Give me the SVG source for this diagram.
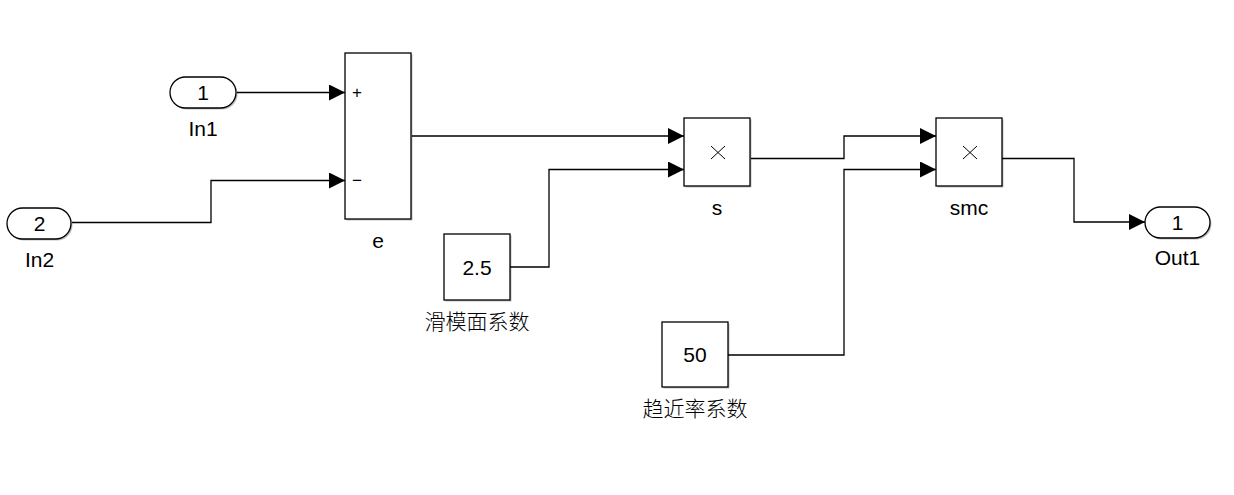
<svg xmlns="http://www.w3.org/2000/svg" width="1234" height="495" viewBox="0 0 1234 495">
<defs>
<marker id="arr" viewBox="0 0 16 16" refX="16" refY="8" markerWidth="16" markerHeight="16" markerUnits="userSpaceOnUse" orient="auto">
<path d="M0,0 L16,8 L0,16 Z" fill="#000"/>
</marker>
<path id="mul" d="M-7,-6.5 L7,6.5 M7,-6.5 L-7,6.5" fill="none" stroke="#000" stroke-width="1"/>
</defs>
<style>
.blk{fill:#fff;stroke:#000;stroke-width:1.3}
.shd{fill:#000;opacity:0.25}
.t{font-family:"Liberation Sans",Arial,sans-serif;font-size:21px;fill:#000;text-anchor:middle;dominant-baseline:central}
.cn{font-family:"Noto Sans CJK SC",sans-serif;font-size:21px;font-weight:300;fill:#000;text-anchor:middle;dominant-baseline:central}
.sg{font-family:"Liberation Sans",Arial,sans-serif;font-size:17px;fill:#000;dominant-baseline:central}
.w{fill:none;stroke:#000;stroke-width:1.3}
</style>
<rect width="1234" height="495" fill="#fff"/>
<g id="connectors">
<path class="w" d="M237,92.5 H345" marker-end="url(#arr)"/>
<path class="w" d="M72,222.5 H211 V180.5 H345" marker-end="url(#arr)"/>
<path class="w" d="M412,136 H684" marker-end="url(#arr)"/>
<path class="w" d="M510,267 H549 V169.5 H684" marker-end="url(#arr)"/>
<path class="w" d="M751,158.5 H844 V136 H936" marker-end="url(#arr)"/>
<path class="w" d="M728,355 H844 V169.5 H936" marker-end="url(#arr)"/>
<path class="w" d="M1002,158.5 H1074 V222 H1145" marker-end="url(#arr)"/>
</g>
<g id="In1">
<rect class="shd" x="171.5" y="78.5" width="66" height="31" rx="15.5"/>
<rect class="blk" x="170" y="77" width="66" height="31" rx="15.5"/>
<text class="t" x="203" y="92.5">1</text>
<text class="t" x="203" y="128">In1</text>
</g>
<g id="In2">
<rect class="shd" x="8.5" y="209.5" width="64" height="31" rx="15.5"/>
<rect class="blk" x="7" y="208" width="64" height="31" rx="15.5"/>
<text class="t" x="39.5" y="223">2</text>
<text class="t" x="39.5" y="259">In2</text>
</g>
<g id="e">
<rect class="shd" x="346.5" y="54.5" width="66" height="166"/>
<rect class="blk" x="345" y="53" width="66" height="166"/>
<text class="sg" x="352" y="92">+</text>
<text class="sg" x="352" y="180">−</text>
<text class="t" x="378" y="240">e</text>
</g>
<g id="s">
<rect class="shd" x="685.5" y="119.5" width="66" height="68"/>
<rect class="blk" x="684" y="118" width="66" height="68"/>
<use href="#mul" x="718" y="152.5"/>
<text class="t" x="717" y="207">s</text>
</g>
<g id="smc">
<rect class="shd" x="937.5" y="119.5" width="66" height="68"/>
<rect class="blk" x="936" y="118" width="66" height="68"/>
<use href="#mul" x="970" y="152.5"/>
<text class="t" x="969" y="207">smc</text>
</g>
<g id="c1">
<rect class="shd" x="445.5" y="235.5" width="66" height="66"/>
<rect class="blk" x="444" y="234" width="66" height="66"/>
<text class="t" x="477" y="267">2.5</text>
<text class="cn" x="477" y="320">滑模面系数</text>
</g>
<g id="c2">
<rect class="shd" x="663.5" y="323.5" width="66" height="65"/>
<rect class="blk" x="662" y="322" width="66" height="65"/>
<text class="t" x="695" y="354.5">50</text>
<text class="cn" x="695" y="407">趋近率系数</text>
</g>
<g id="Out1">
<rect class="shd" x="1146.5" y="208.5" width="65" height="31" rx="15.5"/>
<rect class="blk" x="1145" y="207" width="65" height="31" rx="15.5"/>
<text class="t" x="1177.5" y="222.5">1</text>
<text class="t" x="1177.5" y="257">Out1</text>
</g>
</svg>
